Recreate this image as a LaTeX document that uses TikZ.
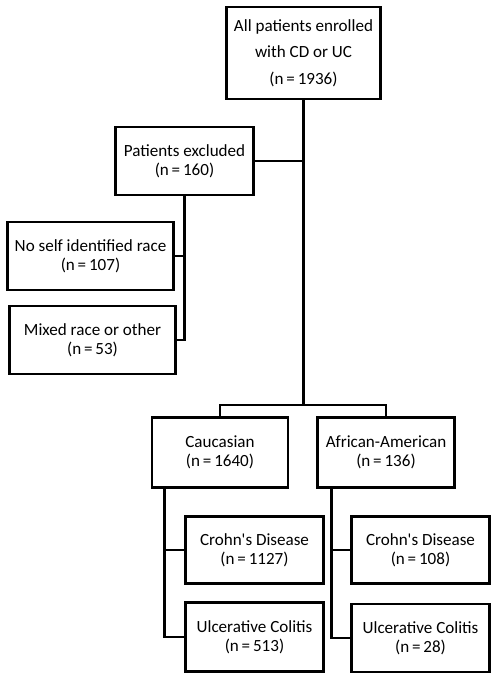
\documentclass[tikz,border=0pt]{standalone}
\usepackage{fontspec}
\setmainfont{Carlito}
\tikzset{box/.style={draw, line width=2.2pt, align=center, inner sep=0pt, font=\fontsize{12.8}{14}\selectfont},
    link/.style={line width=2.2pt}}

\begin{document}
\begin{tikzpicture}[x=.75pt, y=-.75pt]
    \useasboundingbox(0, 0) rectangle (497, 680);
    \node[box, minimum width=116pt, minimum height=69pt, font=\fontsize{12.8}{20}\selectfont](all) at(303.5, 53){All patients enrolled\\with CD or UC\\(n\,=\,1936)};
    \node[box, minimum width=104pt, minimum height=51pt](excl) at(184.5, 161){Patients excluded\\(n\,=\,160)};
    \node[box, minimum width=125pt, minimum height=51pt](noself) at(90.5, 256){No self identified race\\(n\,=\,107)};
    \node[box, minimum width=125pt, minimum height=51pt](mixed) at(92.5, 340){Mixed race or other\\(n\,=\,53)};
    \node[box, minimum width=102pt, minimum height=52pt](cau) at(220, 452.5){Caucasian\\(n\,=\,1640)};
    \node[box, minimum width=103pt, minimum height=52pt](afr) at(386, 452.5){African-American\\(n\,=\,136)};
    \node[box, minimum width=103pt, minimum height=50pt](cdc) at(254.5, 550){Crohn\textquotesingle s Disease\\(n\,=\,1127)};
    \node[box, minimum width=103pt, minimum height=52pt](ucc) at(254.5, 637){Ulcerative Colitis\\(n\,=\,513)};
    \node[box, minimum width=103pt, minimum height=50pt](cda) at(420.5, 550){Crohn\textquotesingle s Disease\\(n\,=\,108)};
    \node[box, minimum width=103pt, minimum height=51pt](uca) at(420.5, 638){Ulcerative Colitis\\(n\,=\,28)};
    \coordinate(fork) at(303.5, 405);
    \draw[link](all)--(fork);
    \draw[link](cau.north)|-(fork)-|(afr.north);
    \draw[link](excl.east)--(excl.east-|fork);
    \draw[link](excl.south)|-(noself.east);
    \draw[link](excl.south)|-(mixed.east);
    \draw[link]([xshift=10.5pt]cau.south west)|-(cdc.west);
    \draw[link]([xshift=10.5pt]cau.south west)|-(ucc.west);
    \draw[link]([xshift=12pt]afr.south west)|-(cda.west);
    \draw[link]([xshift=12pt]afr.south west)|-(uca.west);
\end{tikzpicture}
\end{document}
